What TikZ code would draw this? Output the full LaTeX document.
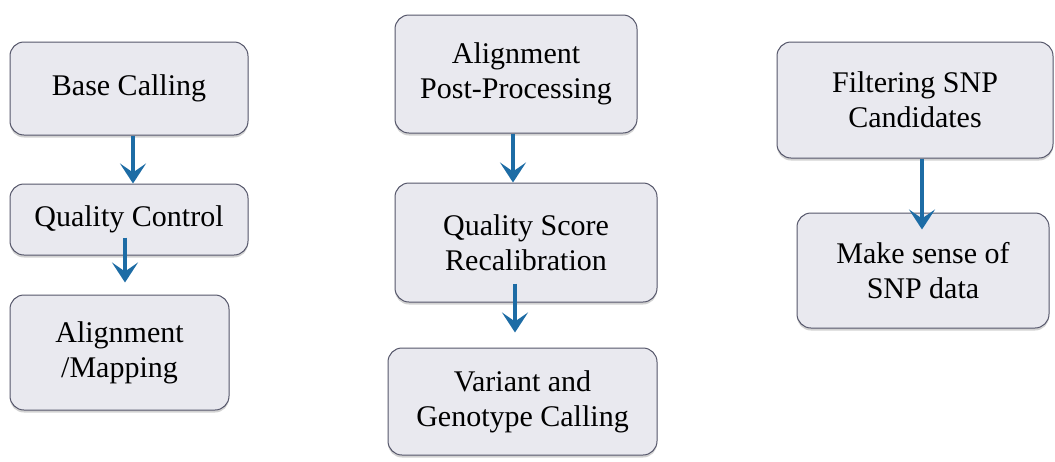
\documentclass[tikz,border=0pt]{standalone}
\usepackage{fontspec}
\setmainfont{Liberation Serif}
\usetikzlibrary{arrows.meta,shadows}
\definecolor{boxfill}{HTML}{E9E9EF}
\definecolor{boxline}{HTML}{55566A}
\definecolor{arrowblue}{HTML}{1D6CA5}
\tikzset{
  stepbox/.style={draw=boxline, line width=1pt, fill=boxfill,
    rounded corners=14pt, align=center, inner sep=0pt,
    font=\fontsize{30}{35}\selectfont,
    drop shadow={shadow xshift=0pt, shadow yshift=-2.5pt, opacity=0.35, fill=gray}},
  flow/.style={draw=arrowblue, line width=4.5pt,
    -{Stealth[length=20pt, width=26pt, inset=9pt]}}
}
\begin{document}
\begin{tikzpicture}[x=1pt, y=-1pt]
\useasboundingbox[fill=white] (0,0) rectangle (1055,461);

% left column
\node[stepbox, minimum width=238pt, minimum height=93pt] (bc) at (129,88.5) {Base Calling};
\node[stepbox, minimum width=238pt, minimum height=71pt] (qc) at (129,219.5) {Quality Control};
\node[stepbox, minimum width=219pt, minimum height=115pt] (am) at (119.5,352.5) {Alignment\\/Mapping};

% middle column
\node[stepbox, minimum width=242pt, minimum height=118pt] (app) at (516,74) {Alignment\\Post-Processing};
\node[stepbox, minimum width=262pt, minimum height=119pt] (qsr) at (526,242.5) {Quality Score\\Recalibration};
\node[stepbox, minimum width=269pt, minimum height=107pt] (vgc) at (522.5,401.5) {Variant and\\Genotype Calling};

% right column
\node[stepbox, minimum width=276pt, minimum height=116pt] (fsc) at (915,100) {Filtering SNP\\Candidates};
\node[stepbox, minimum width=252pt, minimum height=115pt] (mss) at (923,270.5) {Make sense of\\SNP data};

% connectors
\draw[flow] ([xshift=4pt]bc.south) -- ([xshift=4pt]qc.north);
\draw[flow] ([xshift=-4pt, yshift=18pt]qc.south) -- ([xshift=5.5pt, yshift=12pt]am.north);
\draw[flow] ([xshift=-3pt]app.south) -- ([xshift=-13pt]qsr.north);
\draw[flow] ([xshift=-11pt, yshift=19pt]qsr.south) -- ([xshift=-7.5pt, yshift=15pt]vgc.north);
\draw[flow] ([xshift=7pt]fsc.south) -- ([xshift=-1pt, yshift=-17pt]mss.north);
\end{tikzpicture}
\end{document}
